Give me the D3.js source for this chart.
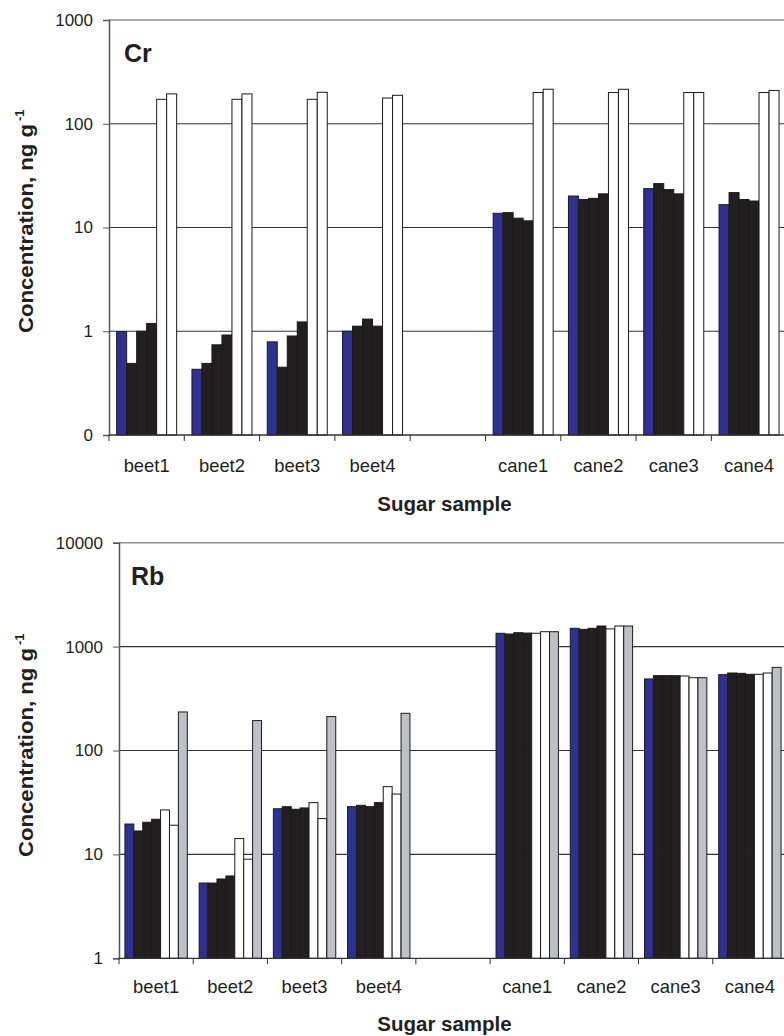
<!DOCTYPE html>
<html>
<head>
<meta charset="utf-8">
<script src="https://cdn.jsdelivr.net/npm/d3@7"></script>
<style>
html,body{margin:0;padding:0;background:#fff;}
svg{display:block;font-family:"Liberation Sans",Arial,sans-serif;}
</style>
</head>
<body>
<svg id="chart" width="784" height="1036"></svg>
<script>
// ---- data ----
const categories = ["beet1","beet2","beet3","beet4","","cane1","cane2","cane3","cane4"];

// Cr (ng/g), six series per sample
const crSeries1 = [0.99, 0.43, 0.79, 1.0, null, 13.7, 20.1, 23.7, 16.6];
const crSeries2 = [0.49, 0.49, 0.45, 1.12, null, 13.9, 18.6, 26.5, 21.7];
const crSeries3 = [1.0, 0.74, 0.90, 1.31, null, 12.3, 19.1, 23.2, 18.6];
const crSeries4 = [1.19, 0.92, 1.23, 1.12, null, 11.6, 21.1, 21.1, 18.0];
const crSeries5 = [172, 172, 172, 177, null, 200, 200, 200, 200];
const crSeries6 = [194, 194, 201, 188, null, 215, 215, 200, 209];

// Rb (ng/g), seven series per sample
const rbSeries1 = [19.6, 5.3, 27.5, 28.8, null, 1343, 1500, 488, 537];
const rbSeries2 = [16.8, 5.3, 28.8, 29.7, null, 1322, 1466, 525, 557];
const rbSeries3 = [20.4, 5.8, 27.2, 28.8, null, 1361, 1500, 525, 553];
const rbSeries4 = [21.8, 6.2, 28.0, 31.5, null, 1350, 1578, 525, 541];
const rbSeries5 = [26.8, 14.2, 31.5, 44.9, null, 1343, 1480, 521, 541];
const rbSeries6 = [19.1, 9.0, 22.1, 38.1, null, 1391, 1578, 502, 557];
const rbSeries7 = [235, 194, 212, 228, null, 1391, 1578, 502, 631];

const crTickValues = [0.1, 1, 10, 100, 1000];
const crTickLabels = ["0", "1", "10", "100", "1000"];
const rbTickValues = [1, 10, 100, 1000, 10000];
const rbTickLabels = ["1", "10", "100", "1000", "10000"];

const BLUE = "#2e3192", BLACK = "#231f20", WHITE = "#ffffff", GREY = "#bec0c5";

const svg = d3.select("#chart");

function panel(opts) {
  const g = svg.append("g");
  const x = d3.scaleBand().domain(categories).range([opts.left, opts.right]).padding(0);
  const y = d3.scaleLog().domain(opts.domain).range([opts.bottom, opts.top]);
  const names = opts.series.map((d, i) => "s" + i);
  const inner = d3.scaleBand().domain(names).range([0, x.bandwidth()])
    .paddingInner(0).paddingOuter(opts.po);

  // top border
  g.append("line").attr("x1", opts.left).attr("x2", 800)
    .attr("y1", opts.top).attr("y2", opts.top)
    .attr("stroke", "#8a8c8e").attr("stroke-width", 1.5);

  // gridlines
  g.selectAll("line.grid").data(opts.tickValues.slice(1, -1)).join("line")
    .attr("class", "grid")
    .attr("x1", opts.left).attr("x2", 800)
    .attr("y1", d => y(d)).attr("y2", d => y(d))
    .attr("stroke", "#333").attr("stroke-width", 1.2);

  // bars
  opts.series.forEach((vals, si) => {
    g.append("g").selectAll("rect").data(vals.map((v, i) => ({v, c: categories[i]})).filter(d => d.v != null))
      .join("rect")
      .attr("x", d => x(d.c) + inner(names[si]))
      .attr("width", inner.bandwidth())
      .attr("y", d => y(d.v))
      .attr("height", d => opts.bottom - y(d.v))
      .attr("fill", opts.colors[si])
      .attr("stroke", "#1a1a1a").attr("stroke-width", 1);
  });

  // y axis
  const yAxis = d3.axisLeft(y).tickValues(opts.tickValues)
    .tickFormat((d, i) => opts.tickLabels[i]).tickSize(6).tickPadding(10);
  const ya = g.append("g").attr("transform", `translate(${opts.left},0)`).call(yAxis);
  ya.select(".domain").attr("stroke", "#555").attr("stroke-width", 1.5);
  ya.selectAll(".tick line").attr("stroke", "#555");
  ya.selectAll("text").attr("font-size", 17).attr("fill", "#231f20")
    .attr("font-family", "Liberation Sans, Arial, sans-serif");

  // x axis
  const bounds = categories.map(c => x(c)).concat([opts.right]);
  g.append("line").attr("x1", opts.left).attr("x2", 800)
    .attr("y1", opts.bottom).attr("y2", opts.bottom)
    .attr("stroke", "#333").attr("stroke-width", 1.3);
  g.selectAll("line.xt").data(bounds).join("line").attr("class", "xt")
    .attr("x1", d => d).attr("x2", d => d)
    .attr("y1", opts.bottom).attr("y2", opts.bottom + 6)
    .attr("stroke", "#333").attr("stroke-width", 1);
  g.selectAll("text.cat").data(categories).join("text").attr("class", "cat")
    .attr("x", d => x(d) + x.bandwidth() / 2)
    .attr("y", opts.catY)
    .attr("text-anchor", "middle").attr("font-size", 18.4).attr("fill", "#231f20")
    .text(d => d);

  // x title
  g.append("text").attr("x", 444.5).attr("y", opts.xTitleY)
    .attr("text-anchor", "middle").attr("font-size", 20.5).attr("font-weight", "bold")
    .attr("fill", "#231f20").text("Sugar sample");

  // y title
  const yt = g.append("g").attr("transform", `translate(33,${opts.yTitleY}) rotate(-90)`);
  yt.append("text").attr("x", 0).attr("y", 0)
    .attr("font-size", 20).attr("font-weight", "bold").attr("fill", "#231f20")
    .attr("textLength", 209).attr("lengthAdjust", "spacingAndGlyphs")
    .text("Concentration, ng g");
  yt.append("text").attr("x", 212).attr("y", -9)
    .attr("font-size", 13).attr("font-weight", "bold").attr("fill", "#231f20")
    .text("-1");

  // panel label
  g.append("text").attr("x", opts.labelX).attr("y", opts.labelY)
    .attr("font-size", 25).attr("font-weight", "bold").attr("fill", "#231f20")
    .text(opts.label);
}

panel({
  left: 109, right: 786.7, top: 20, bottom: 435,
  domain: [0.1, 1000], tickValues: crTickValues, tickLabels: crTickLabels,
  series: [crSeries1, crSeries2, crSeries3, crSeries4, crSeries5, crSeries6],
  colors: [BLUE, BLACK, BLACK, BLACK, WHITE, WHITE],
  po: 0.765, catY: 472, xTitleY: 511, yTitleY: 333,
  label: "Cr", labelX: 124, labelY: 62
});

panel({
  left: 119, right: 787, top: 542.7, bottom: 958.3,
  domain: [1, 10000], tickValues: rbTickValues, tickLabels: rbTickLabels,
  series: [rbSeries1, rbSeries2, rbSeries3, rbSeries4, rbSeries5, rbSeries6, rbSeries7],
  colors: [BLUE, BLACK, BLACK, BLACK, WHITE, WHITE, GREY],
  po: 0.665, catY: 993, xTitleY: 1031, yTitleY: 857,
  label: "Rb", labelX: 131, labelY: 585
});
</script>
</body>
</html>
